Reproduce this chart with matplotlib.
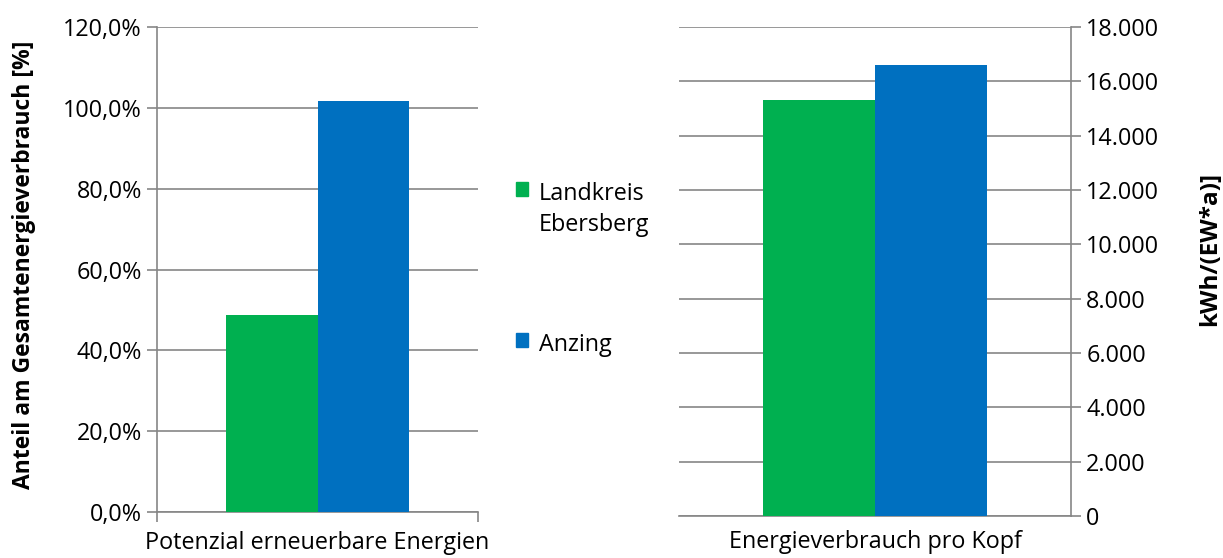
import matplotlib.pyplot as plt
from matplotlib.patches import Patch
from matplotlib.ticker import FuncFormatter

plt.rcParams['font.family'] = ['Open Sans', 'DejaVu Sans']

# data
series = ['Landkreis\nEbersberg', 'Anzing']
colors = ['#00B050', '#0070C0']
potenzial = [48.7, 101.6]          # % of total energy use
verbrauch = [15320, 16610]         # kWh per inhabitant and year
cat_left = 'Potenzial erneuerbare Energien'
cat_right = 'Energieverbrauch pro Kopf'

grid_c = '#868686'
fs = 16.8
lab_fs = 16.5

fig = plt.figure(figsize=(12.23, 5.58), dpi=100)
ax1 = fig.add_axes([0.1284, 0.0824, 0.2625, 0.869])
ax2 = fig.add_axes([0.5552, 0.0753, 0.3205, 0.8763])

w = 0.2857
for ax, vals in ((ax1, potenzial), (ax2, verbrauch)):
    for i, v in enumerate(vals):
        ax.bar((i - 0.5) * w, v, width=w, color=colors[i], zorder=3)
    ax.set_xlim(-0.5, 0.5)
    ax.grid(axis='y', color=grid_c, linewidth=1.2, zorder=0)
    for s in ('top', 'right', 'left', 'bottom'):
        ax.spines[s].set_visible(False)
    ax.spines['bottom'].set_visible(True)
    ax.spines['bottom'].set_color(grid_c)
    ax.spines['bottom'].set_linewidth(1.2)

# left chart
ax1.set_ylim(0, 120)
ax1.set_yticks(range(0, 121, 20))
ax1.yaxis.set_major_formatter(FuncFormatter(lambda v, p: f'{v:.1f}'.replace('.', ',') + '%'))
ax1.spines['left'].set_visible(True)
ax1.spines['left'].set_color(grid_c)
ax1.spines['left'].set_linewidth(1.2)
ax1.tick_params(axis='y', length=7, width=1.2, color=grid_c, labelsize=fs, pad=4)
ax1.set_ylabel('Anteil am Gesamtenergieverbrauch [%]', fontsize=lab_fs, fontweight='bold')
ax1.yaxis.set_label_coords(-0.377, 0.51)
ax1.set_xticks([0])
ax1.set_xticklabels([cat_left], fontsize=fs)
ax1.set_xticks([-0.5, 0.5], minor=True)
ax1.tick_params(axis='x', which='major', length=0, pad=14)
ax1.tick_params(axis='x', which='minor', length=7, width=1.2, color=grid_c)

# right chart
ax2.set_ylim(0, 18000)
ax2.set_yticks(range(0, 18001, 2000))
ax2.yaxis.set_major_formatter(FuncFormatter(lambda v, p: f'{int(v):,}'.replace(',', '.')))
ax2.yaxis.tick_right()
ax2.yaxis.set_label_position('right')
ax2.spines['right'].set_visible(True)
ax2.spines['right'].set_color(grid_c)
ax2.spines['right'].set_linewidth(1.2)
ax2.tick_params(axis='y', length=7, width=1.2, color=grid_c, labelsize=fs, pad=4)
ax2.set_ylabel('kWh/(EW*a)]', fontsize=17.5, fontweight='bold', rotation=90)
ax2.yaxis.set_label_coords(1.325, 0.546)
ax2.set_xticks([0])
ax2.set_xticklabels([cat_right], fontsize=fs)
ax2.tick_params(axis='x', length=0, pad=10)

# legend
for i, y in ((0, 0.69), (1, 0.42)):
    leg = fig.legend(handles=[Patch(color=colors[i], label=series[i])],
                     loc='upper left', bbox_to_anchor=(0.414, y), frameon=False,
                     fontsize=fs, handlelength=0.55, handleheight=0.55,
                     handletextpad=0.45, borderaxespad=0)
    for t in leg.get_texts():
        t.set_linespacing(1.35)
    for col in leg._legend_handle_box.get_children():
        for item in col.get_children():
            item.align = 'top'

fig.savefig('out.png', dpi=100)
